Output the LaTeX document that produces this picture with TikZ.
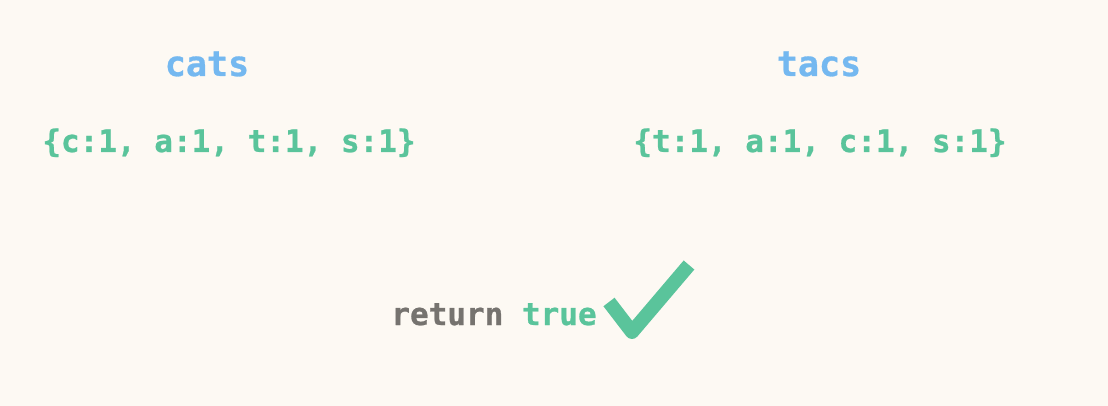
\documentclass[tikz,border=0pt]{standalone}
\usepackage{fontspec}
\setmonofont[BoldFeatures={FakeBold=0.8}]{DejaVu Sans Mono}
\definecolor{bg}{HTML}{FDF9F3}
\definecolor{tblue}{HTML}{74B8F0}
\definecolor{tgreen}{HTML}{5AC49B}
\definecolor{tgray}{HTML}{76736F}
\begin{document}
\begin{tikzpicture}[x=1pt,y=-1pt,
  title/.style={anchor=base,inner sep=0pt,text=tblue,font=\fontsize{35}{40}\selectfont\ttfamily\bfseries},
  dict/.style={anchor=base,inner sep=0pt,text=tgreen,font=\fontsize{31}{36}\selectfont\ttfamily\bfseries},
  ret/.style={anchor=base,inner sep=0pt,font=\fontsize{31}{36}\selectfont\ttfamily\bfseries},
  check/.style={tgreen,line width=14pt,line join=round,line cap=butt}]
\fill[bg] (0,0) rectangle (1108,406);
\useasboundingbox (0,0) rectangle (1108,406);
\node[title] (t1) at (207,76) {cats};
\node[title] (t2) at (819,76) {tacs};
\node[dict] (d1) at (229,152) {\{c:1, a:1, t:1, s:1\}};
\node[dict] (d2) at (820,152) {\{t:1, a:1, c:1, s:1\}};
\node[ret] (r) at (494,325) {\textcolor{tgray}{return} \textcolor{tgreen}{true}};
\coordinate (c1) at (609,302);
\coordinate (c2) at (632,332);
\coordinate (c3) at (689,265);
\draw[check] (c1) -- (c2) -- (c3);
\end{tikzpicture}
\end{document}
